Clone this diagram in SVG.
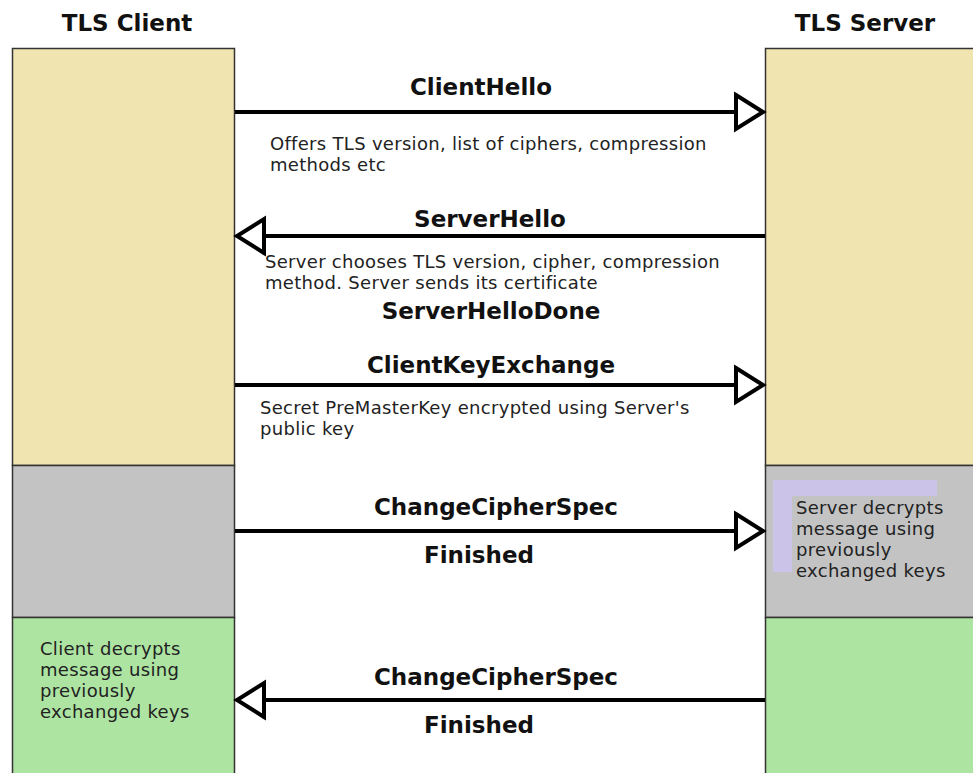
<svg xmlns="http://www.w3.org/2000/svg" width="973" height="773" viewBox="0 0 973 773">
<style>
.col{stroke:#333;stroke-width:1.5}
.yel{fill:#F0E4B0}
.gry{fill:#C3C3C3}
.grn{fill:#AEE4A2}
.hdr{font-family:"DejaVu Sans",Verdana,sans-serif;font-weight:bold;font-size:23px;fill:#111}
.lbl{font-family:"DejaVu Sans",Verdana,sans-serif;font-weight:bold;font-size:23px;fill:#111}
.txt{font-family:"DejaVu Sans",Verdana,sans-serif;font-size:18px;letter-spacing:0.3px;fill:#222}
.msg{stroke:#000;stroke-width:4;fill:none}
</style>
<defs>
<marker id="tri" markerUnits="userSpaceOnUse" markerWidth="40" markerHeight="44" refX="27" refY="17" orient="auto" overflow="visible">
<path d="M0,0 L27,17 L0,34 Z" fill="#fff" stroke="#000" stroke-width="4" stroke-linejoin="miter"/>
</marker>
</defs>
<rect width="973" height="773" fill="#fff"/>

<g id="client">
<rect class="col yel" x="12.5" y="48.5" width="222" height="417"/>
<rect class="col gry" x="12.5" y="465.5" width="222" height="152"/>
<rect class="col grn" x="12.5" y="617.5" width="222" height="160"/>
<text class="hdr" x="127" y="31" text-anchor="middle">TLS Client</text>
<text class="txt" x="40" y="655">Client decrypts</text>
<text class="txt" x="40" y="676">message using</text>
<text class="txt" x="40" y="697">previously</text>
<text class="txt" x="40" y="718">exchanged keys</text>
</g>

<g id="server">
<rect class="col yel" x="765.5" y="48.5" width="212" height="417"/>
<rect class="col gry" x="765.5" y="465.5" width="212" height="152"/>
<rect class="col grn" x="765.5" y="617.5" width="212" height="160"/>
<text class="hdr" x="865" y="31" text-anchor="middle">TLS Server</text>
<rect x="773" y="480" width="164" height="92" fill="#CCC4E8"/>
<rect x="792" y="496" width="170" height="90" fill="#C3C3C3"/>
<text class="txt" x="796" y="514">Server decrypts</text>
<text class="txt" x="796" y="535">message using</text>
<text class="txt" x="796" y="556">previously</text>
<text class="txt" x="796" y="577">exchanged keys</text>
</g>

<g id="connectors">
<line class="msg" x1="235" y1="112" x2="763" y2="112" marker-end="url(#tri)"/>
<line class="msg" x1="765" y1="236" x2="237" y2="236" marker-end="url(#tri)"/>
<line class="msg" x1="235" y1="385" x2="763" y2="385" marker-end="url(#tri)"/>
<line class="msg" x1="235" y1="531" x2="763" y2="531" marker-end="url(#tri)"/>
<line class="msg" x1="765" y1="700" x2="237" y2="700" marker-end="url(#tri)"/>
</g>

<g id="labels">
<text class="lbl" x="481" y="95" text-anchor="middle">ClientHello</text>
<text class="txt" x="270" y="150">Offers TLS version, list of ciphers, compression</text>
<text class="txt" x="270" y="171">methods etc</text>
<text class="lbl" x="490" y="227" text-anchor="middle">ServerHello</text>
<text class="txt" x="265" y="268">Server chooses TLS version, cipher, compression</text>
<text class="txt" x="265" y="289">method. Server sends its certificate</text>
<text class="lbl" x="491" y="319" text-anchor="middle">ServerHelloDone</text>
<text class="lbl" x="491" y="373" text-anchor="middle">ClientKeyExchange</text>
<text class="txt" x="260" y="414">Secret PreMasterKey encrypted using Server's</text>
<text class="txt" x="260" y="435">public key</text>
<text class="lbl" x="496" y="515" text-anchor="middle">ChangeCipherSpec</text>
<text class="lbl" x="479" y="563" text-anchor="middle">Finished</text>
<text class="lbl" x="496" y="685" text-anchor="middle">ChangeCipherSpec</text>
<text class="lbl" x="479" y="733" text-anchor="middle">Finished</text>
</g>
</svg>
